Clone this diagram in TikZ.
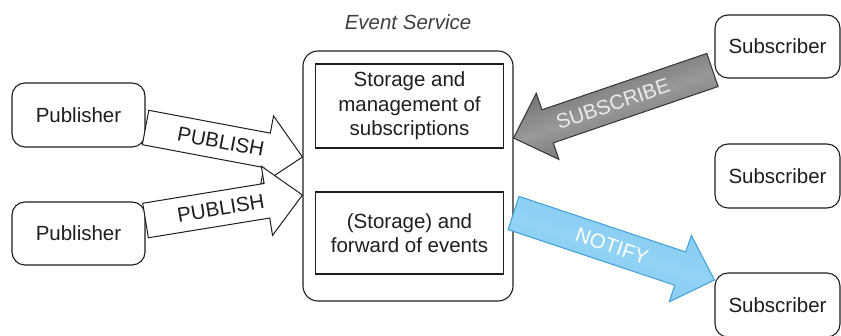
\documentclass[tikz,border=0pt]{standalone}
\usepackage{fontspec}
\setmainfont{Liberation Sans}
\usetikzlibrary{calc}
\definecolor{txt}{HTML}{1E1E1E}
\definecolor{notifyfill}{HTML}{7CC7EF}
\definecolor{notifymid}{HTML}{92D3F5}
\definecolor{notifyline}{HTML}{3E9FD8}
\tikzset{
  box/.style={draw=txt, line width=1.1pt, rounded corners=13pt, fill=white,
    minimum width=#1, text=txt, font=\fontsize{20.5}{24.5}\selectfont, inner sep=0pt},
  box/.default=133pt,
  inner/.style={draw=txt, line width=1.1pt, minimum width=188pt, align=center,
    text=txt, font=\fontsize{20.5}{24.5}\selectfont, inner sep=0pt},
  bigarrow/.style={line width=1pt, line join=miter},
  arrowlabel/.style={sloped, font=\fontsize{20.5}{24.5}\selectfont, inner sep=0pt},
}
% \blockarrow{tail}{tip}{style}{label style}{label}
\newcommand{\blockarrow}[5]{%
  \coordinate (neck) at ($(#2)!36pt!(#1)$);
  \path[bigarrow,#3]
    ($(#1)!17.5pt!90:(#2)$) -- ($(neck)!17.5pt!-90:(#1)$) --
    ($(neck)!35pt!-90:(#1)$) -- (#2) -- ($(neck)!35pt!90:(#1)$) --
    ($(neck)!17.5pt!90:(#1)$) -- ($(#1)!17.5pt!-90:(#2)$) -- cycle;
  \path (#1) -- (#2) node[arrowlabel,#4] {#5};
}
\begin{document}
\begin{tikzpicture}[x=1pt,y=-1pt]
\useasboundingbox (0,0) rectangle (841,336);
% nodes
\node[box, minimum height=64pt] (pub1) at (78.5,115) {Publisher};
\node[box, minimum height=63pt] (pub2) at (78.5,233.5) {Publisher};
\node[box=125pt, minimum height=63pt] (sub1) at (777.5,46.5) {Subscriber};
\node[box=125pt, minimum height=64pt] (sub2) at (777.5,176) {Subscriber};
\node[box=125pt, minimum height=64pt] (sub3) at (777.5,305) {Subscriber};
\node[draw=txt, line width=1.1pt, rounded corners=15pt, minimum width=210pt,
  minimum height=250pt, inner sep=0pt] (es) at (408,176) {};
\node[text=txt!85, font=\fontsize{20.5}{24.5}\selectfont\itshape, anchor=center]
  (eslabel) at (408,22) {Event Service};
\node[inner, minimum height=84pt] (store) at (409.5,106) {Storage and\\management of\\subscriptions};
\node[inner, minimum height=82pt] (fwd) at (409.5,233) {(Storage) and\\forward of events};
% arrow end points
\coordinate (t1) at ($(pub1.east)+(0,12.5)$);
\coordinate (h1) at (es.west |- 0,157);
\coordinate (t2) at ($(pub2.east)+(0,-13)$);
\coordinate (h2) at (es.west |- 0,195);
\coordinate (t3) at ($(sub1.west)+(-2,23.5)$);
\coordinate (h3) at (es.east |- 0,138);
\coordinate (t4) at (es.east |- 0,213);
\coordinate (h4) at (sub3.west |- 0,280);
% arrows
\blockarrow{t1}{h1}{draw=txt, fill=white}{pos=0.48, text=txt}{PUBLISH}
\blockarrow{t2}{h2}{draw=txt, fill=white}{pos=0.48, text=txt}{PUBLISH}
\blockarrow{t3}{h3}{draw=black!80, top color=black!65, bottom color=black!65,
  middle color=black!40, shading angle=19}{pos=0.5, text=black!8}{SUBSCRIBE}
\blockarrow{t4}{h4}{draw=notifyline, top color=notifyfill, bottom color=notifyfill,
  middle color=notifymid, shading angle=-18}{pos=0.49, text=white}{NOTIFY}
\end{tikzpicture}
\end{document}
